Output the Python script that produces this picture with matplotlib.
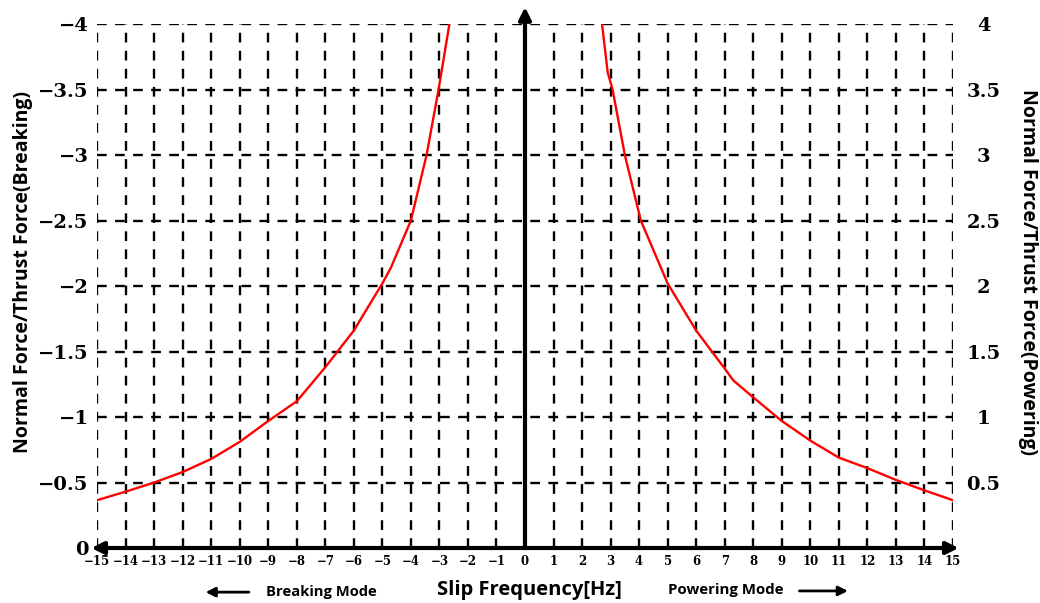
import numpy as np
import matplotlib
matplotlib.use("Agg")
import matplotlib.pyplot as plt

plt.rcParams['lines.scale_dashes'] = False

# ---- data ----
# braking side (left), magnitude of normal/thrust force ratio
brk_x = [-15, -14, -13, -12, -11, -10, -9, -8, -7, -6, -5, -4.7, -4, -3.45, -3.03, -2.65]
brk_y = [0.365, 0.43, 0.50, 0.58, 0.68, 0.81, 0.97, 1.12, 1.38, 1.66, 2.02, 2.14, 2.5, 3.0, 3.5, 4.0]

# powering side (right)
pow_x = [2.7, 2.9, 3.07, 3.5, 4.06, 5, 6, 7, 7.3, 8, 9, 10, 11, 12, 13, 14, 15]
pow_y = [4.0, 3.63, 3.5, 3.0, 2.5, 2.02, 1.66, 1.37, 1.28, 1.15, 0.97, 0.82, 0.69, 0.61, 0.52, 0.44, 0.365]

x_ticks = list(range(-15, 16))
y_ticks = [0, 0.5, 1, 1.5, 2, 2.5, 3, 3.5, 4]
left_labels = ['0', '\u22120.5', '\u22121', '\u22121.5', '\u22122', '\u22122.5', '\u22123', '\u22123.5', '\u22124']
right_labels = ['', '0.5', '1', '1.5', '2', '2.5', '3', '3.5', '4']

fig = plt.figure(figsize=(10.4, 6.03), dpi=100)
ax = fig.add_axes([0.0933, 0.0912, 0.8230, 0.8688])
ax.set_xlim(-15, 15)
ax.set_ylim(0, 4)

# dashed grid
for xv in x_ticks:
    if xv == 0:
        continue
    ax.axvline(xv, color='k', lw=1.7, linestyle=(0, (7, 6)), zorder=1)
for yv in y_ticks[1:]:
    ax.axhline(yv, color='k', lw=1.7, linestyle=(0, (7, 6)), zorder=1)

# curves
ax.plot(brk_x, brk_y, color='red', lw=1.7, zorder=3)
ax.plot(pow_x, pow_y, color='red', lw=1.7, zorder=3)

# axes arrows
ax.annotate('', xy=(15.2, 0), xytext=(-15.2, 0), annotation_clip=False,
            arrowprops=dict(arrowstyle='<|-|>', lw=3, color='k', mutation_scale=18,
                            shrinkA=0, shrinkB=0), zorder=4)
ax.annotate('', xy=(0, 4.13), xytext=(0, 0), annotation_clip=False,
            arrowprops=dict(arrowstyle='-|>', lw=3, color='k', mutation_scale=18,
                            shrinkA=0, shrinkB=0), zorder=4)

for s in ax.spines.values():
    s.set_visible(False)

tick_font = dict(family='DejaVu Serif', weight='bold')

ax.set_xticks(x_ticks)
ax.set_xticklabels([str(v).replace('-', '\u2212') for v in x_ticks], fontsize=8.5, **tick_font)
ax.tick_params(axis='x', length=0, pad=5)

ax.set_yticks(y_ticks)
ax.set_yticklabels(left_labels, fontsize=14, **tick_font)
ax.tick_params(axis='y', length=0, pad=6)

ax2 = ax.twinx()
ax2.set_ylim(0, 4)
ax2.set_yticks(y_ticks)
ax2.set_yticklabels(right_labels, fontsize=14, **tick_font)
ax2.tick_params(axis='y', length=0, pad=22)
for lab in ax2.get_yticklabels():
    lab.set_horizontalalignment('center')
for s in ax2.spines.values():
    s.set_visible(False)

label_font = dict(family=['Open Sans', 'DejaVu Sans'], weight='bold')
fig.text(0.022, 0.549, 'Normal Force/Thrust Force(Breaking)', rotation=90,
         ha='center', va='center', fontsize=14, **label_font)
fig.text(0.988, 0.549, 'Normal Force/Thrust Force(Powering)', rotation=270,
         ha='center', va='center', fontsize=14, **label_font)
fig.text(0.509, 0.021, 'Slip Frequency[Hz]', ha='center', va='center',
         fontsize=14.5, **label_font)
fig.text(0.309, 0.018, 'Breaking Mode', ha='center', va='center',
         fontsize=10.6, **label_font)
fig.text(0.698, 0.021, 'Powering Mode', ha='center', va='center',
         fontsize=10.8, **label_font)

fig.add_artist(matplotlib.patches.FancyArrowPatch((0.242, 0.018), (0.195, 0.018),
               transform=fig.transFigure, arrowstyle='-|>', mutation_scale=14,
               lw=2, color='k'))
fig.add_artist(matplotlib.patches.FancyArrowPatch((0.766, 0.020), (0.818, 0.020),
               transform=fig.transFigure, arrowstyle='-|>', mutation_scale=14,
               lw=2, color='k'))

fig.savefig('out.png', dpi=100)
